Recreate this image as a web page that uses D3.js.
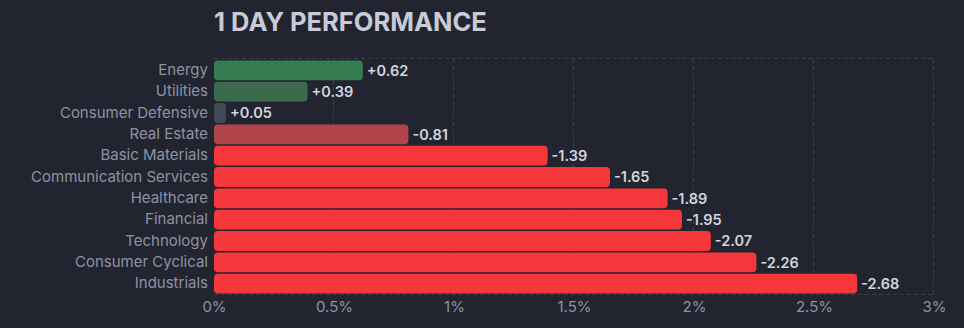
<!DOCTYPE html>
<html><head><meta charset="utf-8">
<script src="https://cdn.jsdelivr.net/npm/d3@7"></script>
<style>
html,body{margin:0;padding:0;background:#22252f;}
svg{display:block;font-family:Inter,"Noto Sans",sans-serif;}
</style></head>
<body>
<svg id="c" width="964" height="328"></svg>
<script>
const categories = ["Energy","Utilities","Consumer Defensive","Real Estate","Basic Materials","Communication Services","Healthcare","Financial","Technology","Consumer Cyclical","Industrials"];
const values = [0.62,0.39,0.05,-0.81,-1.39,-1.65,-1.89,-1.95,-2.07,-2.26,-2.68];
const colors = ["#357d50","#3c6a4c","#3f4a54","#b0444a","#f5363a","#f5363a","#f5363a","#f5363a","#f5363a","#f5363a","#f5363a"];
const tickValues = [0,0.5,1,1.5,2,2.5,3];
const tickLabels = ["0%","0.5%","1%","1.5%","2%","2.5%","3%"];

const svg = d3.select("#c");
const m = {left:214, right:934, top:59, bottom:294};
const x = d3.scaleLinear().domain([0,3]).range([m.left, m.right]);
const y = d3.scaleBand().domain(categories).range([m.top+1, m.bottom]).paddingInner(0.07).paddingOuter(0.02);

svg.append("text").attr("x",214).attr("y",31).attr("fill","#c9cbd8")
  .attr("font-size",25.5).attr("font-weight",700).text("1 DAY PERFORMANCE");

const grid = svg.append("g").attr("stroke","#3b3f4c").attr("stroke-dasharray","4,3").attr("stroke-width",1);
tickValues.slice(1).forEach(t=>{
  grid.append("line").attr("x1",Math.round(x(t))-0.5).attr("x2",Math.round(x(t))-0.5).attr("y1",m.top).attr("y2",m.bottom);
});
grid.append("line").attr("x1",m.left).attr("x2",m.right).attr("y1",m.top-0.5).attr("y2",m.top-0.5);
grid.append("line").attr("x1",m.left).attr("x2",m.right).attr("y1",m.bottom+0.5).attr("y2",m.bottom+0.5);

const rows = categories.map((c,i)=>({c, v:values[i], col:colors[i]}));
svg.append("g").selectAll("rect").data(rows).join("rect")
  .attr("x",x(0)).attr("y",d=>y(d.c)).attr("width",d=>Math.max(x(Math.abs(d.v))-x(0),8))
  .attr("height",y.bandwidth()).attr("rx",4).attr("fill",d=>d.col);

svg.append("g").selectAll("text").data(rows).join("text")
  .attr("x",d=>x(0)+Math.max(x(Math.abs(d.v))-x(0),8)+4).attr("y",d=>y(d.c)+y.bandwidth()/2)
  .attr("dy","0.36em").attr("fill","#d3d5df").attr("font-size",14.5).attr("font-weight",600)
  .text(d=>(d.v>0?"+":"")+d.v.toFixed(2));

const ya = d3.axisLeft(y).tickSize(0).tickPadding(6);
const gy = svg.append("g").attr("transform",`translate(${m.left},0)`).call(ya);
gy.select(".domain").remove();
gy.selectAll("text").attr("fill","#8e92a6").attr("font-size",15).attr("font-family","Inter,'Noto Sans',sans-serif");

const xa = d3.axisBottom(x).tickValues(tickValues).tickFormat((d,i)=>tickLabels[i]).tickSize(0).tickPadding(7);
const gx = svg.append("g").attr("transform",`translate(0,${m.bottom})`).call(xa);
gx.select(".domain").remove();
gx.selectAll("text").attr("fill","#8e92a6").attr("font-size",15).attr("font-family","Inter,'Noto Sans',sans-serif");
</script>
</body></html>
